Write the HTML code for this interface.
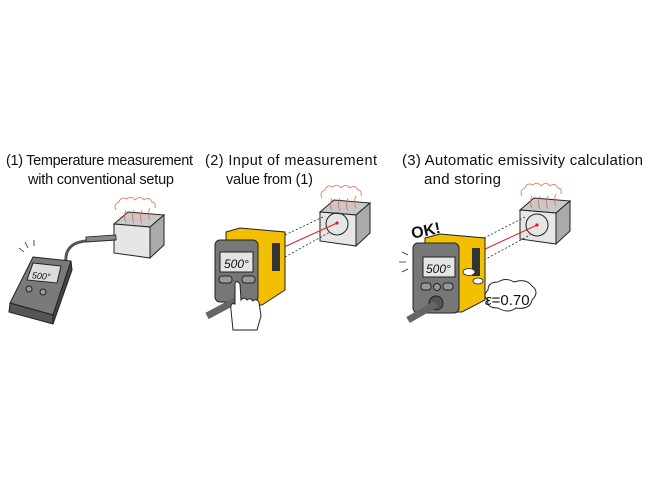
<!DOCTYPE html>
<html><head><meta charset="utf-8"><style>
html,body{margin:0;padding:0;background:#fff}
svg{display:block}
text{font-family:"Liberation Sans",Arial,sans-serif;fill:#111}
</style></head><body>
<svg width="650" height="479" viewBox="0 0 650 479" xmlns="http://www.w3.org/2000/svg">
<g font-size="14.5">
<text x="6" y="165" textLength="187" lengthAdjust="spacing">(1) Temperature measurement</text>
<text x="28" y="184" textLength="146" lengthAdjust="spacing">with conventional setup</text>
<text x="205" y="165" textLength="172" lengthAdjust="spacing">(2) Input of measurement</text>
<text x="226" y="184" textLength="87" lengthAdjust="spacing">value from (1)</text>
<text x="402" y="165" textLength="241" lengthAdjust="spacing" font-size="15">(3) Automatic emissivity calculation</text>
<text x="424" y="184" textLength="77" lengthAdjust="spacing" font-size="15">and storing</text>
</g>
<defs>
<g id="cube">
<polygon points="0,12 14,0 50,3 36,15" fill="#c8c8c8" stroke="#222" stroke-width="1"/>
<polygon points="0,12 36,15 36,46 0,41" fill="#e6e6e6" stroke="#222" stroke-width="1"/>
<polygon points="36,15 50,3 50,33 36,46" fill="#aaa" stroke="#222" stroke-width="1"/>
<g fill="none" stroke="#e06a50" stroke-width="0.8">
<path d="M2,-2 q-3,-6 3,-8 q2,-6 8,-3 q4,-4 8,1 q5,-5 9,0 q5,-4 8,2 q4,0 3,6"/>
<path d="M12,10 q-3,-5 0,-12 M20,11 q-3,-6 0,-13 M28,11 q-3,-6 0,-13 M36,8 q-3,-6 0,-12"/>
</g>
</g>
</defs>
<!-- Panel 1 -->
<use href="#cube" x="114" y="212"/>
<path d="M66,263 q-2,-20 20,-22 l30,-2" fill="none" stroke="#555" stroke-width="3"/>
<rect x="86" y="236" width="30" height="5" fill="#888" stroke="#222" stroke-width="0.8" transform="rotate(-4 100 238)"/>
<g stroke="#222" stroke-width="0.8" fill="none"><path d="M24,252 l-5,-4 M28,248 l-3,-6 M34,246 l0,-6"/></g>
<polygon points="33,257 71,261 53,315 10,303" fill="#7a7a7a" stroke="#222"/>
<polygon points="10,303 53,315 53,324 9,312" fill="#555" stroke="#222"/>
<polygon points="53,315 71,261 72,270 53,324" fill="#444" stroke="#222"/>
<polygon points="33,263 61,266 57,283 27,280" fill="#ddd" stroke="#222"/>
<text x="32" y="279" font-size="9" font-style="italic" transform="rotate(5 40 275)">500°</text>
<circle cx="29" cy="289" r="3" fill="#999" stroke="#222"/>
<circle cx="43" cy="292" r="3" fill="#999" stroke="#222"/>
<!-- Panel 2 -->
<use href="#cube" x="320" y="200"/>
<circle cx="337" cy="224" r="11" fill="none" stroke="#222"/>
<circle cx="337" cy="223" r="1.6" fill="#d22"/>
<g stroke="#222" stroke-width="0.8" stroke-dasharray="2,2"><line x1="285" y1="235" x2="325" y2="216"/><line x1="285" y1="257" x2="330" y2="232"/></g>
<line x1="284" y1="247" x2="337" y2="223" stroke="#d22" stroke-width="1"/>
<polygon points="226,232 240,228 285,232 285,290 262,305 226,305" fill="#f2c000" stroke="#222"/>
<rect x="272" y="243" width="8" height="28" fill="#333"/>
<rect x="215" y="240" width="43" height="62" rx="5" fill="#777" stroke="#222"/>
<rect x="220" y="252" width="33" height="20" fill="#e4e4e4" stroke="#222"/>
<text x="224" y="268" font-size="12" font-style="italic">500°</text>
<rect x="219" y="276" width="13" height="7" rx="3" fill="#999" stroke="#222"/>
<rect x="242" y="276" width="13" height="7" rx="3" fill="#999" stroke="#222"/>
<path d="M207,316 l30,-16" stroke="#666" stroke-width="7"/>
<path d="M233,330 l-2,-20 q-1,-8 4,-6 l0,-20 q1,-5 5,0 l1,16 q3,-4 6,0 q3,-3 6,1 q3,-3 6,1 l2,14 l-4,14 z" fill="#fff" stroke="#222"/>
<!-- Panel 3 -->
<use href="#cube" x="520" y="198"/>
<circle cx="537" cy="225" r="11" fill="none" stroke="#222"/>
<circle cx="537" cy="225" r="1.6" fill="#d22"/>
<g stroke="#222" stroke-width="0.8" stroke-dasharray="2,2"><line x1="484" y1="238" x2="525" y2="217"/><line x1="484" y1="260" x2="530" y2="235"/></g>
<line x1="483" y1="250" x2="537" y2="225" stroke="#d22" stroke-width="1"/>
<text x="411" y="236" font-size="16" font-weight="bold" transform="rotate(-12 425 230)">OK!</text>
<g stroke="#222" stroke-width="0.8"><path d="M408,255 l-6,-3 M406,262 l-7,0 M408,269 l-6,3"/></g>
<polygon points="425,238 440,234 485,238 485,300 462,312 425,312" fill="#f2c000" stroke="#222"/>
<rect x="472" y="248" width="8" height="28" fill="#333"/>
<rect x="413" y="243" width="46" height="70" rx="5" fill="#777" stroke="#222"/>
<rect x="423" y="257" width="32" height="20" fill="#e4e4e4" stroke="#222"/>
<text x="426" y="273" font-size="12" font-style="italic">500°</text>
<rect x="421" y="283" width="10" height="7" rx="3" fill="#999" stroke="#222"/>
<circle cx="437" cy="287" r="3.5" fill="#999" stroke="#222"/>
<rect x="443" y="283" width="10" height="7" rx="3" fill="#999" stroke="#222"/>
<circle cx="436" cy="303" r="7" fill="#555" stroke="#222"/>
<path d="M408,320 l28,-16" stroke="#666" stroke-width="7"/>
<ellipse cx="469" cy="272" rx="6" ry="3.5" fill="#fff" stroke="#222" stroke-width="0.8"/>
<ellipse cx="478" cy="281" rx="5" ry="3" fill="#fff" stroke="#222" stroke-width="0.8"/>
<path d="M488,290 q0,-8 10,-8 q8,-5 16,0 q12,-4 18,4 q8,6 0,14 q-2,10 -16,8 q-8,6 -18,0 q-12,0 -10,-8 q-6,-4 0,-10 z" fill="#fff" stroke="#222"/>
<text x="485" y="305" font-size="15"><tspan font-style="italic">ε</tspan>=0.70</text>
</svg>
</body></html>
